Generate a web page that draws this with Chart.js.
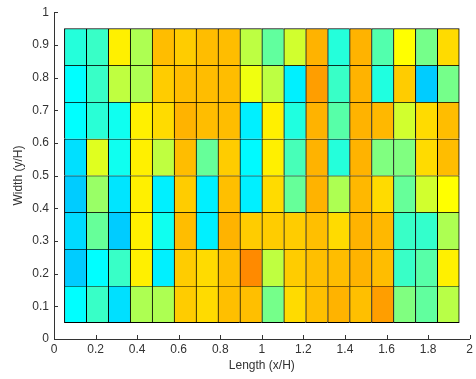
<!DOCTYPE html>
<html>
<head>
<meta charset="utf-8">
<script src="https://cdn.jsdelivr.net/npm/chart.js@4"></script>
<style>
  html, body { margin: 0; padding: 0; background: #fff; }
</style>
</head>
<body>
<canvas id="myChart" width="476" height="379"></canvas>
<script>
// cell values (jet colormap position), rows listed top to bottom
var row0 = [0.41, 0.43, 0.64, 0.545, 0.69, 0.675, 0.69, 0.69, 0.56, 0.47, 0.58, 0.70, 0.41, 0.70, 0.455, 0.625, 0.49, 0.66];
var row1 = [0.375, 0.43, 0.5625, 0.545, 0.675, 0.69, 0.69, 0.69, 0.61, 0.56, 0.36, 0.72, 0.43, 0.70, 0.405, 0.675, 0.325, 0.49];
var row2 = [0.375, 0.415, 0.39, 0.64, 0.66, 0.70, 0.69, 0.69, 0.36, 0.64, 0.405, 0.70, 0.46, 0.70, 0.695, 0.58, 0.66, 0.69];
var row3 = [0.345, 0.595, 0.39, 0.64, 0.5625, 0.69, 0.475, 0.675, 0.37, 0.64, 0.445, 0.70, 0.41, 0.70, 0.5, 0.5, 0.66, 0.69];
var row4 = [0.325, 0.525, 0.35, 0.64, 0.36, 0.675, 0.36, 0.6875, 0.36, 0.66, 0.475, 0.70, 0.545, 0.695, 0.66, 0.475, 0.58, 0.625];
var row5 = [0.34, 0.475, 0.325, 0.64, 0.39, 0.69, 0.36, 0.70, 0.675, 0.675, 0.675, 0.6875, 0.66, 0.70, 0.695, 0.43, 0.425, 0.545];
var row6 = [0.325, 0.375, 0.43, 0.64, 0.36, 0.675, 0.66, 0.6875, 0.74, 0.5625, 0.675, 0.6875, 0.69, 0.70, 0.69, 0.43, 0.46, 0.64];
var row7 = [0.375, 0.43, 0.345, 0.545, 0.545, 0.675, 0.66, 0.6875, 0.6875, 0.49, 0.66, 0.6875, 0.70, 0.6875, 0.72, 0.5, 0.47, 0.555];
var rows = [row0, row1, row2, row3, row4, row5, row6, row7];

// grid extent in axis units
var xStart = 0.05, xEnd = 1.95;
var yStart = 0.05, yEnd = 0.95;

var nCols = row0.length;
var nRows = rows.length;
var colW = (xEnd - xStart) / nCols;
var rowH = (yEnd - yStart) / nRows;

function clamp(v) { return Math.max(0, Math.min(1, v)); }
function jet(v) {
    var r = clamp(1.5 - Math.abs(4 * v - 3));
    var g = clamp(1.5 - Math.abs(4 * v - 2));
    var b = clamp(1.5 - Math.abs(4 * v - 1));
    return 'rgb(' + Math.round(r * 255) + ',' + Math.round(g * 255) + ',' + Math.round(b * 255) + ')';
}

var datasets = rows.map(function(vals, r) {
    var yTop = yEnd - r * rowH;
    var yBot = yTop - rowH;
    return {
        data: vals.map(function(v, i) {
            return { x: xStart + (i + 0.5) * colW, y: [yBot, yTop] };
        }),
        backgroundColor: vals.map(jet),
        borderColor: '#000',
        borderWidth: function(ctx) {
            return {
                left: 1,
                top: 1,
                right: ctx.dataIndex === nCols - 1 ? 1 : 0,
                bottom: r === nRows - 1 ? 1 : 0
            };
        },
        borderSkipped: false,
        grouped: false,
        barPercentage: 1,
        categoryPercentage: 1
    };
});

var font = { family: 'Arial, "Liberation Sans", sans-serif', size: 12 };
var textColor = '#333';

function tickText(v) {
    return String(Number(v.toFixed(1)));
}

// MATLAB style ticks pointing into the plot
var inwardTicks = {
    id: 'inwardTicks',
    afterDraw: function(chart) {
        var ctx = chart.ctx, area = chart.chartArea;
        var x = chart.scales.x, y = chart.scales.y;
        ctx.save();
        ctx.strokeStyle = '#333';
        ctx.lineWidth = 1;
        ctx.beginPath();
        x.ticks.forEach(function(t, i) {
            var px = Math.round(x.getPixelForTick(i)) + 0.5;
            ctx.moveTo(px, area.bottom);
            ctx.lineTo(px, area.bottom - 4);
        });
        y.ticks.forEach(function(t, i) {
            var py = Math.round(y.getPixelForTick(i)) + 0.5;
            ctx.moveTo(area.left, py);
            ctx.lineTo(area.left + 4, py);
        });
        ctx.stroke();
        ctx.restore();
    }
};

var myChart = new Chart(document.getElementById('myChart'), {
    type: 'bar',
    data: { datasets: datasets },
    plugins: [inwardTicks],
    options: {
        responsive: false,
        animation: false,
        layout: { padding: { top: 11, right: 5, bottom: 0, left: 0 } },
        plugins: {
            legend: { display: false },
            tooltip: { enabled: false }
        },
        scales: {
            x: {
                type: 'linear',
                min: 0,
                max: 2,
                offset: false,
                grid: { display: false, drawTicks: false, offset: false },
                border: { display: true, color: '#333', width: 1 },
                ticks: { stepSize: 0.2, padding: 3, color: textColor, font: font, maxRotation: 0, autoSkip: false, callback: tickText },
                title: { display: true, text: 'Length (x/H)', color: textColor, font: font, padding: { top: 0, bottom: 6 } },
                afterFit: function(s) { s.height = 40; }
            },
            y: {
                type: 'linear',
                min: 0,
                max: 1,
                grid: { display: false, drawTicks: false },
                border: { display: true, color: '#333', width: 1 },
                ticks: { stepSize: 0.1, padding: 5, color: textColor, font: font, autoSkip: false, callback: tickText },
                title: { display: true, text: 'Width (y/H)', color: textColor, font: font, padding: { top: 11, bottom: 0 } },
                afterFit: function(s) { s.width = 54; }
            }
        }
    }
});
</script>
</body>
</html>
